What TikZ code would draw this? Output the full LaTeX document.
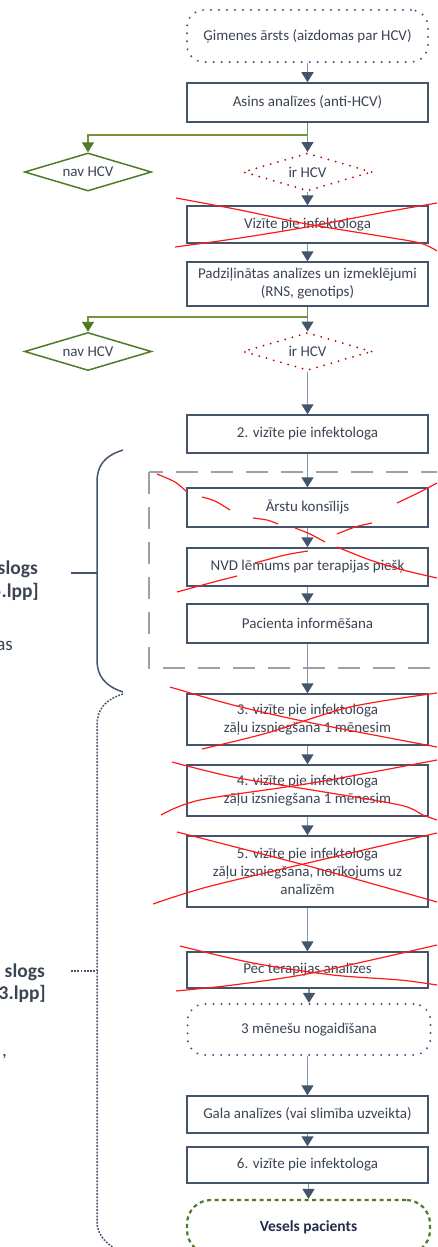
\documentclass[tikz,border=0pt]{standalone}
\usepackage{fontspec}
\setmainfont{Carlito}
\usetikzlibrary{arrows.meta,shapes.geometric,calc}
\definecolor{slate}{HTML}{44546A}
\definecolor{slatelight}{HTML}{8497B0}
\definecolor{txtgrey}{HTML}{3B4453}
\definecolor{navy}{HTML}{262B4A}
\definecolor{hcvgreen}{HTML}{4F7A28}
\definecolor{hcvgreenlight}{HTML}{76933C}
\definecolor{dotblue}{HTML}{4B4F8C}
\definecolor{dotred}{HTML}{C00000}
\definecolor{dashgrey}{HTML}{A0A0A0}
\definecolor{xred}{HTML}{FF1A1A}
\tikzset{hcv/.cd,
         box/.style={draw=slate,line width=1.5pt,fill=white,minimum width=241pt,
                     align=center,inner sep=2pt},
         dotbox/.style={draw=dotblue,line width=2.2pt,dash pattern=on 0pt off 8pt,
                        line cap=round,rounded corners=17pt,minimum width=241pt},
         goal/.style={draw=hcvgreen,line width=2.2pt,dash pattern=on 4pt off 3.5pt,
                      rounded corners=24pt,minimum width=243pt,minimum height=54pt,
                      text=navy,font=\fontsize{15.5}{18}\selectfont\bfseries},
         nav/.style={draw=hcvgreen,line width=1.5pt,shape=diamond,aspect=3.3,
                     minimum width=127pt,minimum height=38pt,inner sep=0pt},
         ir/.style={draw=dotred,line width=2pt,dash pattern=on 0pt off 7.5pt,line cap=round,
                    shape=diamond,aspect=3.3,minimum width=129pt,minimum height=38pt,inner sep=0pt},
         arrow/.style={draw=slatelight,line width=1.5pt,
                       -{Triangle[length=10pt,width=12pt,color=slate]}},
         branch/.style={draw=hcvgreenlight,line width=1.5pt,
                        -{Triangle[length=10pt,width=12pt,color=hcvgreen]}},
         group/.style={draw=dashgrey,line width=1.5pt,dash pattern=on 22pt off 13pt},
         brace/.style={draw=slate,line width=1.5pt},
         fine/.style={line width=1.5pt,dash pattern=on 1.8pt off 1.4pt},
         cross/.style={draw=xred,line width=1.2pt},
         side/.style={text=txtgrey,font=\fontsize{19.5}{22}\selectfont\bfseries,inner sep=0pt},
         sidethin/.style={text=txtgrey,font=\fontsize{19}{22}\selectfont,inner sep=0pt}}

\begin{document}
\begin{tikzpicture}[x=1pt,y=-1pt,
                    every node/.style={text=txtgrey,font=\fontsize{15}{18}\selectfont}]
\useasboundingbox (0,0) rectangle (437,1247);
\clip (0,0) rectangle (437,1247);

\draw[hcv/group] (149,472) rectangle (450,668);

\node[hcv/dotbox,minimum height=52pt] (gp) at (307.5,36) {Ģimenes ārsts (aizdomas par HCV)};
\node[hcv/box,minimum height=39pt] (asins) at (307.5,102.5) {Asins analīzes (anti-HCV)};
\node[hcv/nav] (nav1) at (88,172) {nav HCV};
\node[hcv/ir] (ir1) at (307.5,172) {ir HCV};
\node[hcv/box,minimum height=37pt] (viz1) at (307.5,224.5) {Vizīte pie infektologa};
\node[hcv/box,minimum height=44pt] (padz) at (307.5,284) {Padziļinātas analīzes un izmeklējumi\\(RNS, genotips)};
\node[hcv/nav] (nav2) at (88,351.5) {nav HCV};
\node[hcv/ir] (ir2) at (307.5,351.5) {ir HCV};
\node[hcv/box,minimum height=38pt] (viz2) at (307.5,434) {2. vizīte pie infektologa};
\node[hcv/box,minimum height=39pt] (konsil) at (307.5,507.5) {Ārstu konsīlijs};
\node[hcv/box,minimum height=38pt] (nvd) at (307.5,567) {NVD lēmums par terapijas piešķ};
\node[hcv/box,minimum height=39pt] (inform) at (307.5,623.5) {Pacienta informēšana};
\node[hcv/box,minimum height=51pt] (viz3) at (307.5,719.5) {3. vizīte pie infektologa\\zāļu izsniegšana 1 mēnesim};
\node[hcv/box,minimum height=51pt] (viz4) at (307.5,790.5) {4. vizīte pie infektologa\\zāļu izsniegšana 1 mēnesim};
\node[hcv/box,minimum height=71pt] (viz5) at (307.5,871.5) {5. vizīte pie infektologa\\zāļu izsniegšana, norīkojums uz\\analīzēm};
\node[hcv/box,minimum height=36pt] (pec) at (307.5,970) {Pēc terapijas analīzes};
\node[hcv/dotbox,minimum width=243pt,minimum height=51pt] (nogaid) at (309,1029.5) {3 mēnešu nogaidīšana};
\node[hcv/box,minimum height=37pt] (gala) at (307.5,1114.5) {Gala analīzes (vai slimība uzveikta)};
\node[hcv/box,minimum height=36pt] (viz6) at (307.5,1165) {6. vizīte pie infektologa};
\node[hcv/goal] (vesels) at (308.5,1227) {Vesels pacients};

\foreach \a/\b in {gp/asins,ir1/viz1,viz1/padz,ir2/viz2,viz2/konsil,konsil/nvd,
                   nvd/inform,inform/viz3,viz3/viz4,viz4/viz5,viz5/pec,pec/nogaid,
                   nogaid/gala,gala/viz6,viz6/vesels}
  \draw[hcv/arrow] (\b.north |- \a.south) -- (\b.north);

\draw[hcv/branch] (asins.south) -- ++(0,12) coordinate (j1) -| (nav1.north);
\draw[hcv/arrow] (j1) -- (ir1.north);
\draw[hcv/branch] (padz.south) -- ++(0,10) coordinate (j2) -| (nav2.north);
\draw[hcv/arrow] (j2) -- (ir2.north);

% phases on the left
\draw[hcv/brace] (123,450) .. controls (104,456) and (97,466) .. (97,482) -- (97,660)
                 .. controls (97,676) and (105,686) .. (123,692);
\draw[hcv/brace] (71,573) -- (97,573);
\draw[hcv/brace,hcv/fine] (123,694) .. controls (104,700) and (97,710) .. (97,726) -- (97,1222)
                 .. controls (97,1232) and (103,1241) .. (114,1248);
\draw[hcv/brace,hcv/fine] (71,971) -- (97,971);
\node[hcv/side,anchor=base east] (ph1a) at (38,574) {slogs};
\node[hcv/side,anchor=base east] (ph1b) at (39,597) {5.lpp]};
\node[hcv/sidethin,anchor=base east] (ph1c) at (13,650) {as};
\node[hcv/side,anchor=base east] (ph2a) at (45,977) {slogs};
\node[hcv/side,anchor=base east] (ph2b) at (46,999) {3.lpp]};
\node[hcv/sidethin,anchor=base east] (ph2c) at (7,1056) {,};

% crossed out steps
\draw[hcv/cross] plot[smooth] coordinates {(176,198) (240,210) (307,224) (380,236) (420,243) (437,251)};
\draw[hcv/cross] plot[smooth] coordinates {(175,247) (240,238) (307,227) (380,213) (437,203)};
\draw[hcv/cross] plot[smooth] coordinates {(157,474) (175,482) (187,492)};
\draw[hcv/cross] plot[smooth] coordinates {(202,497) (215,501) (230,510)};
\draw[hcv/cross] plot[smooth] coordinates {(253,518) (267,520) (278,524)};
\draw[hcv/cross] plot[smooth] coordinates {(295,528) (310,534) (325,542)};
\draw[hcv/cross] plot[smooth] coordinates {(337,547) (370,560) (403,570) (437,578)};
\draw[hcv/cross] plot[smooth] coordinates {(397,503) (420,492) (437,483)};
\draw[hcv/cross] plot[smooth] coordinates {(337,534) (355,527) (372,523)};
\draw[hcv/cross] plot[smooth] coordinates {(255,563) (285,555) (308,551)};
\draw[hcv/cross] plot[smooth] coordinates {(177,592) (210,583) (237,576)};
\draw[hcv/cross] plot[smooth] coordinates {(170,687) (233,705) (312,723) (437,747)};
\draw[hcv/cross] plot[smooth] coordinates {(202,749) (267,733) (350,707) (437,693)};
\draw[hcv/cross] plot[smooth] coordinates {(172,762) (233,777) (312,790) (400,805) (423,815) (437,820)};
\draw[hcv/cross] plot[smooth] coordinates {(161,815) (200,800) (312,783) (437,760)};
\draw[hcv/cross] plot[smooth] coordinates {(177,832) (312,867) (437,902)};
\draw[hcv/cross] plot[smooth] coordinates {(153,904) (207,887) (312,862) (437,833)};
\draw[hcv/cross] plot[smooth] coordinates {(180,946) (253,963) (333,975) (400,980) (437,985)};
\draw[hcv/cross] plot[smooth] coordinates {(176,991) (233,985) (312,973) (437,945)};
\end{tikzpicture}
\end{document}
